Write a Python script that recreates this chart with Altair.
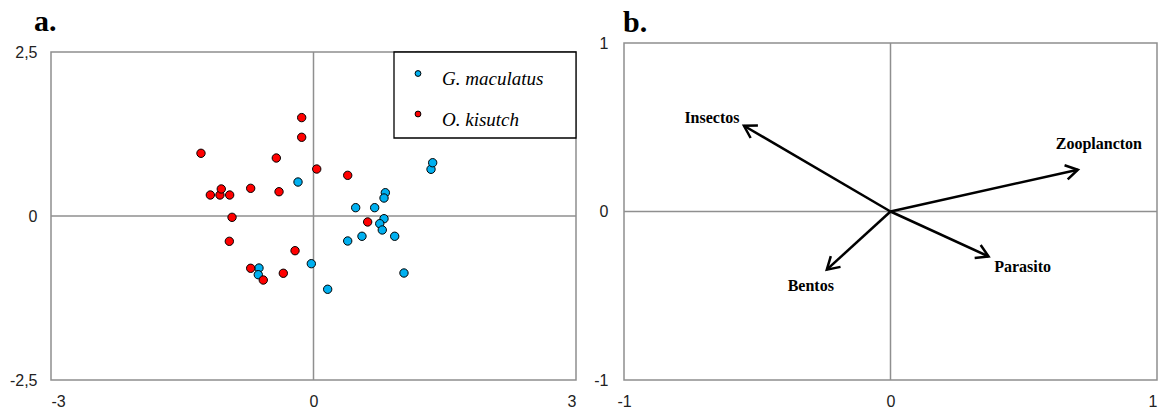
import math

import altair as alt
import pandas as pd

# ---- panel a: fish scores on the first two axes ----
species = ["G. maculatus", "O. kisutch"]
species_colors = ["#00B0F0", "#FF0000"]

gm_x = [-0.177, 1.343, 1.362, 0.821, 0.806, 0.482, 0.699, 0.806, 0.757,
        0.786, 0.928, 0.554, 0.391, -0.025, -0.623, -0.631, 1.034, 0.162]
gm_y = [0.518, 0.712, 0.812, 0.355, 0.274, 0.127, 0.127, -0.041, -0.117,
        -0.213, -0.309, -0.309, -0.381, -0.727, -0.793, -0.895, -0.869, -1.117]

ok_x = [-0.135, -0.135, -1.286, -0.425, 0.037, 0.391, -1.179, -1.069, -1.054,
        -0.958, -0.718, -0.394, -0.931, -0.962, 0.619, -0.211, -0.718, -0.574, -0.345]
ok_y = [1.50, 1.20, 0.956, 0.884, 0.716, 0.620, 0.320, 0.320, 0.412,
        0.320, 0.422, 0.370, -0.020, -0.386, -0.091, -0.529, -0.797, -0.976, -0.873]

a_x_range = [-3, 3]
a_y_range = [-2.5, 2.5]
a_x_ticks = [-3, 0, 3]
a_y_ticks = [-2.5, 0, 2.5]

# ---- panel b: diet item loadings ----
items = ["Insectos", "Zooplancton", "Parasito", "Bentos"]
item_x = [-0.550, 0.703, 0.368, -0.239]
item_y = [0.509, 0.248, -0.267, -0.345]

b_ticks = [-1, 0, 1]

# ---- sizes / styles ----
A_W, A_FRAME_H = 525, 328      # panel a frame size in pixels
B_W, B_H = 533, 337            # panel b frame size in pixels
A_TOP_GAP = B_H - A_FRAME_H    # panel a frame starts lower than panel b
FRAME = "#8f8f8f"
LABEL_EXPR = "replace(toString(datum.value), '.', ',')"

one_row = pd.DataFrame({"k": [0]})
zero_df = pd.DataFrame({"v": [0]})

# ================= panel a =================
a_units_per_px = (a_y_range[1] - a_y_range[0]) / A_FRAME_H
xa = alt.Scale(domain=a_x_range, nice=False, zero=False)
ya = alt.Scale(domain=[a_y_range[0], a_y_range[1] + A_TOP_GAP * a_units_per_px],
               nice=False, zero=False)

pts = pd.DataFrame({
    "x": gm_x + ok_x,
    "y": gm_y + ok_y,
    "especie": [species[0]] * len(gm_x) + [species[1]] * len(ok_x),
})

a_xaxis = alt.Axis(values=a_x_ticks, labelExpr=LABEL_EXPR, title=None, labelPadding=13)
a_yaxis = alt.Axis(values=a_y_ticks, labelExpr=LABEL_EXPR, title=None, labelPadding=14)

frame_df = pd.DataFrame({
    "x1": [a_x_range[0]], "x2": [a_x_range[1]],
    "y1": [a_y_range[0]], "y2": [a_y_range[1]],
})
a_frame = alt.Chart(frame_df).mark_rect(
    fill="transparent", stroke=FRAME, strokeWidth=1.5
).encode(
    x=alt.X("x1:Q", scale=xa, axis=a_xaxis), x2="x2:Q",
    y=alt.Y("y1:Q", scale=ya, axis=a_yaxis), y2="y2:Q",
)

a_vline = alt.Chart(frame_df).mark_rule(color=FRAME, strokeWidth=1.5).encode(
    x=alt.datum(0, scale=xa), y=alt.Y("y1:Q", scale=ya), y2="y2:Q"
)
a_hline = alt.Chart(frame_df).mark_rule(color=FRAME, strokeWidth=1.5).encode(
    y=alt.datum(0, scale=ya), x=alt.X("x1:Q", scale=xa), x2="x2:Q"
)

a_points = alt.Chart(pts).mark_circle(
    size=70, stroke="black", strokeWidth=1, opacity=1
).encode(
    x=alt.X("x:Q", scale=xa),
    y=alt.Y("y:Q", scale=ya),
    color=alt.Color("especie:N",
                    scale=alt.Scale(domain=species, range=species_colors),
                    legend=None),
)

# legend box drawn in the top-right corner of the frame
legend_box = alt.Chart(one_row).mark_rect(
    fill="white", stroke="black", strokeWidth=1.3
).encode(
    x=alt.value(343), x2=alt.value(525),
    y=alt.value(A_TOP_GAP), y2=alt.value(A_TOP_GAP + 86),
)

legend_layers = [legend_box]
for i, (name, col) in enumerate(zip(species, species_colors)):
    sym_y = A_TOP_GAP + 21.5 + 40.5 * i
    legend_layers.append(
        alt.Chart(one_row).mark_circle(
            size=34, color=col, stroke="black", strokeWidth=1, opacity=1
        ).encode(x=alt.value(367), y=alt.value(sym_y))
    )
    legend_layers.append(
        alt.Chart(one_row).mark_text(
            text=name, align="left", baseline="alphabetic",
            font="Liberation Serif", fontStyle="italic", fontSize=19,
            color="black",
        ).encode(x=alt.value(391), y=alt.value(sym_y + 11.5))
    )

panel_a = alt.layer(a_frame, a_vline, a_hline, a_points, *legend_layers).properties(
    width=A_W, height=B_H,
    view=alt.ViewBackground(stroke="transparent"),
    title=alt.TitleParams(
        "a.", anchor="start", frame="group", dx=-17, offset=6,
        font="Liberation Serif", fontWeight="bold", fontSize=30, color="black",
    ),
)

# ================= panel b =================
xb = alt.Scale(domain=[-1, 1], nice=False, zero=False)
yb = alt.Scale(domain=[-1, 1], nice=False, zero=False)

kx, ky = B_W / 2.0, B_H / 2.0
vec = pd.DataFrame({
    "item": items,
    "x0": [0.0] * len(items),
    "y0": [0.0] * len(items),
    "x": item_x,
    "y": item_y,
})
# heading of every arrow in screen space (clockwise degrees, 0 = right)
vec["ang"] = [
    math.degrees(math.atan2(-yy * ky, xx * kx)) % 360
    for xx, yy in zip(item_x, item_y)
]

b_xaxis = alt.Axis(
    values=b_ticks, labelExpr=LABEL_EXPR, title=None, labelPadding=13,
    labelAlign=alt.ConditionalAxisLabelAlign(
        condition={"test": "datum.value == 1", "value": "right"}, value="center"
    ),
)
b_yaxis = alt.Axis(values=b_ticks, labelExpr=LABEL_EXPR, title=None, labelPadding=16)

b_vline = alt.Chart(zero_df).mark_rule(color=FRAME, strokeWidth=1.5).encode(
    x=alt.X("v:Q", scale=xb, axis=b_xaxis)
)
b_hline = alt.Chart(zero_df).mark_rule(color=FRAME, strokeWidth=1.5).encode(
    y=alt.Y("v:Q", scale=yb, axis=b_yaxis)
)

shafts = alt.Chart(vec).mark_rule(color="black", strokeWidth=2.5).encode(
    x=alt.X("x0:Q", scale=xb),
    y=alt.Y("y0:Q", scale=yb),
    x2="x:Q",
    y2="y:Q",
)

heads = alt.Chart(vec).mark_point(
    shape="M-1,-0.6L0,0L-1,0.6", size=576, filled=False,
    color="black", strokeWidth=2.5, opacity=1, strokeJoin="miter",
).encode(
    x=alt.X("x:Q", scale=xb),
    y=alt.Y("y:Q", scale=yb),
    angle=alt.Angle("ang:Q", scale=None),
)

# label offsets from the arrow tips, in pixels
label_offsets = {
    "Insectos": (-32, -8),
    "Zooplancton": (21, -26),
    "Parasito": (34, 11),
    "Bentos": (-16, 16),
}
label_layers = []
for name, (ddx, ddy) in label_offsets.items():
    label_layers.append(
        alt.Chart(vec).transform_filter(alt.datum.item == name).mark_text(
            font="Liberation Serif", fontWeight="bold", fontSize=16,
            color="black", dx=ddx, dy=ddy,
        ).encode(
            x=alt.X("x:Q", scale=xb),
            y=alt.Y("y:Q", scale=yb),
            text="item:N",
        )
    )

panel_b = alt.layer(b_vline, b_hline, shafts, heads, *label_layers).properties(
    width=B_W, height=B_H,
    view=alt.ViewBackground(stroke=FRAME, strokeWidth=1.5),
    title=alt.TitleParams(
        "b.", anchor="start", frame="group", dx=-1, offset=-3,
        font="Liberation Serif", fontWeight="bold", fontSize=30, color="black",
    ),
)

chart = (
    alt.hconcat(panel_a, panel_b, spacing=15)
    .properties(padding={"left": 8, "top": 6, "right": 0, "bottom": 0},
                background="white")
    .configure_view(stroke="transparent")
    .configure_axis(
        domain=False, ticks=False, grid=False,
        labelFont="Liberation Sans", labelFontSize=16, labelColor="#222222",
    )
)

chart.save("out.html", embed_options={"renderer": "svg", "actions": False})
